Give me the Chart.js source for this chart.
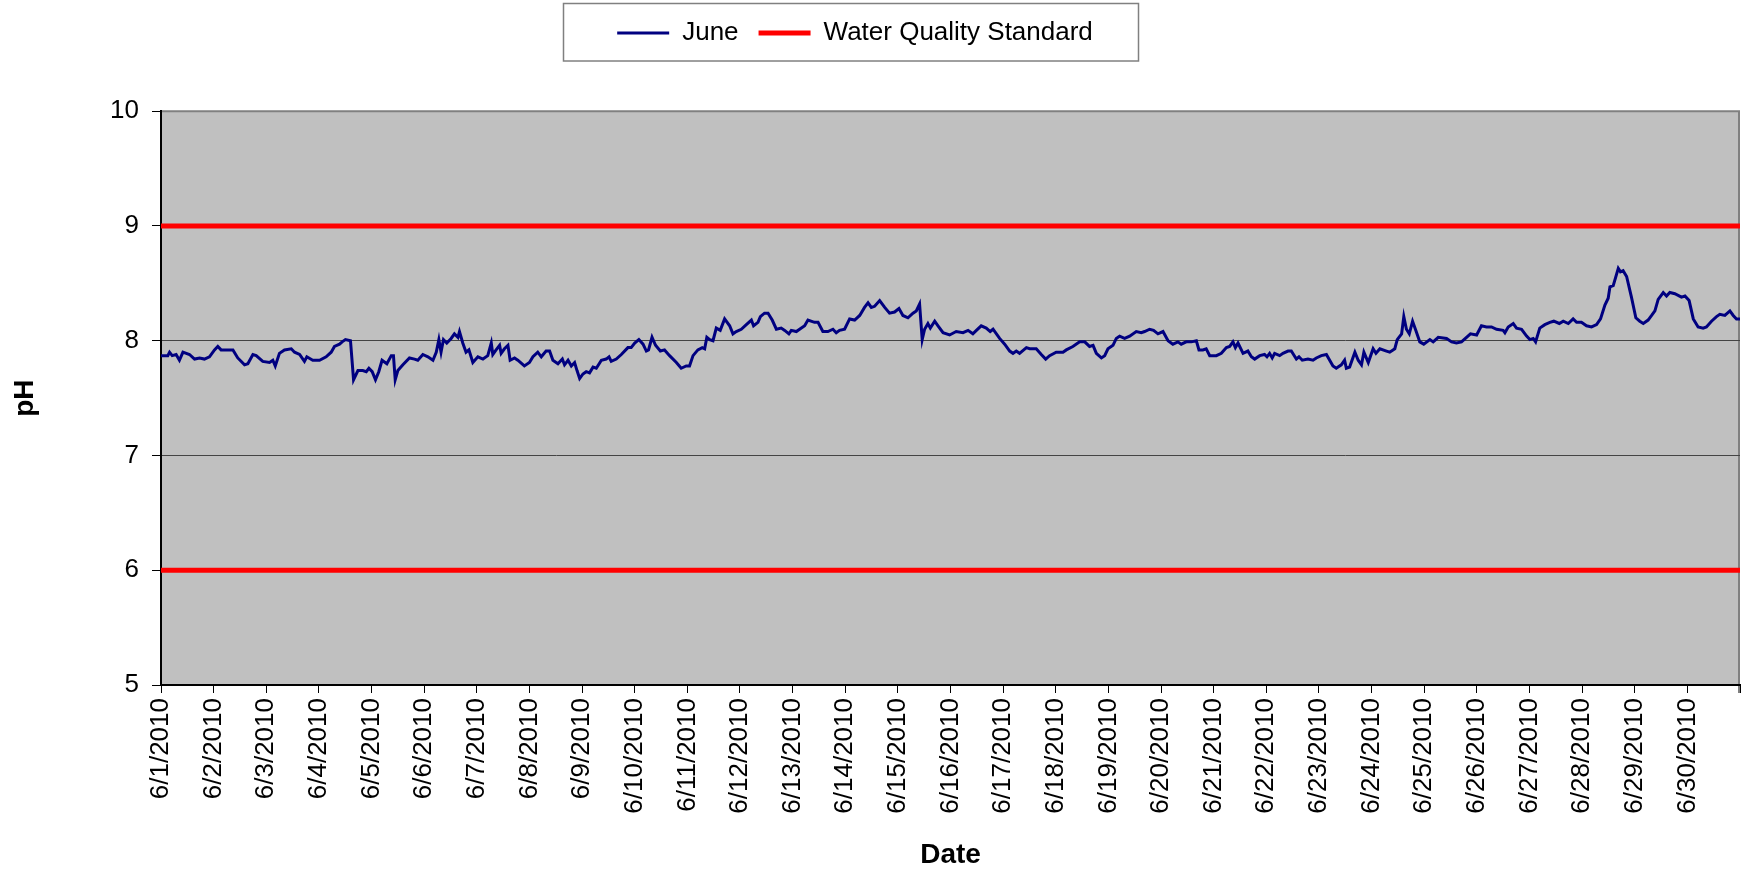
<!DOCTYPE html>
<html>
<head>
<meta charset="utf-8">
<script src="https://cdn.jsdelivr.net/npm/chart.js@4.4.0/dist/chart.umd.min.js"></script>
<style>
html,body{margin:0;padding:0;background:#fff;}
canvas{display:block;}
</style>
</head>
<body>
<canvas id="c" width="1746" height="873"></canvas>
<script>
// ---- data ----
const dateLabels = ['6/1/2010','6/2/2010','6/3/2010','6/4/2010','6/5/2010','6/6/2010','6/7/2010','6/8/2010','6/9/2010','6/10/2010',
  '6/11/2010','6/12/2010','6/13/2010','6/14/2010','6/15/2010','6/16/2010','6/17/2010','6/18/2010','6/19/2010','6/20/2010',
  '6/21/2010','6/22/2010','6/23/2010','6/24/2010','6/25/2010','6/26/2010','6/27/2010','6/28/2010','6/29/2010','6/30/2010'];
const monthEndHour = 720;           // 7/1/2010 00:00
const yTicks = [5, 6, 7, 8, 9, 10];
const standardLimits = [9, 6];      // water quality standard band

// hours since 6/1/2010 00:00
const juneHours = [
  0, 3.1, 3.9, 5.1, 6.9, 8.4, 10.0, 13.0, 15.3, 17.6,
  19.8, 22.1, 24.4, 25.9, 27.4, 32.8, 35.0, 38.1, 39.6, 41.9,
  43.4, 46.4, 49.5, 51.0, 52.1, 54.0, 56.3, 59.4, 60.9, 63.2,
  65.4, 66.5, 69.2, 72.3, 75.3, 77.6, 79.1, 81.4, 82.6, 84.1,
  86.4, 87.8, 89.8, 92.0, 93.6, 94.8, 96.3, 97.8, 99.3, 100.8,
  103.0, 105.0, 106.0, 106.8, 108.0, 110.3, 113.3, 115.6, 117.1, 119.4,
  121.7, 124.0, 125.5, 126.7, 127.7, 128.8, 130.3, 132.3, 133.8, 135.4,
  136.1, 137.6, 139.1, 140.4, 142.2, 144.5, 146.8, 149.0, 150.6, 151.3,
  152.8, 154.4, 155.1, 156.6, 158.2, 159.2, 161.2, 162.7, 165.7, 168.0,
  169.6, 171.8, 173.4, 175.6, 177.2, 178.7, 181.0, 183.0, 184.0, 185.6,
  187.1, 188.6, 189.7, 190.9, 192.4, 193.9, 195.4, 197.0, 198.5, 200.8,
  203.0, 204.3, 205.3, 207.6, 209.9, 212.9, 214.4, 216.0, 217.9, 219.8,
  221.3, 222.3, 223.9, 225.5, 227.7, 229.6, 231.9, 235.0, 237.2, 239.5,
  241.0, 242.6, 244.8, 246.8, 247.9, 248.9, 250.2, 251.7, 253.2, 255.0,
  257.0, 259.3, 260.8, 262.3, 264.6, 266.9, 269.2, 270.2, 272.2, 273.3,
  275.2, 276.8, 278.7, 280.6, 282.8, 284.4, 286.3, 287.4, 289.7, 292.0,
  293.5, 295.0, 298.0, 299.6, 301.8, 304.1, 306.4, 307.9, 309.4, 311.7,
  314.0, 316.3, 318.6, 320.8, 322.4, 323.9, 325.4, 327.7, 330.0, 332.2,
  334.5, 336.5, 338.3, 340.6, 342.9, 344.4, 345.9, 347.1, 348.2, 349.7,
  350.8, 352.8, 354.3, 356.6, 359.6, 362.6, 365.7, 368.0, 370.2, 371.8,
  374.0, 376.3, 378.1, 379.4, 382.4, 384.7, 387.0, 388.5, 390.0, 391.5,
  394.6, 396.1, 399.1, 401.4, 403.4, 405.2, 408.2, 411.3, 412.8, 415.8,
  418.9, 421.2, 423.4, 425.0, 426.5, 428.8, 430.3, 431.8, 434.1, 435.6,
  437.1, 439.4, 441.7, 444.7, 447.0, 448.5, 450.8, 452.6, 454.6, 456.9,
  459.2, 461.4, 463.7, 465.2, 467.5, 469.8, 472.1, 473.3, 475.1, 476.6,
  478.2, 481.2, 483.5, 485.8, 487.3, 488.8, 489.9, 491.1, 493.4, 495.6,
  497.2, 498.7, 501.0, 503.2, 504.3, 505.5, 506.7, 507.8, 510.1, 511.6,
  513.9, 515.4, 517.7, 518.9, 520.4, 523.0, 525.3, 526.8, 529.1, 531.4,
  534.4, 535.9, 538.2, 539.7, 540.5, 542.0, 544.4, 545.9, 547.4, 548.5,
  550.5, 552.7, 554.0, 555.8, 558.8, 560.3, 562.6, 563.7, 565.7, 566.7,
  567.9, 569.2, 570.7, 572.2, 574.0, 575.8, 578.6, 580.1, 582.4, 586.2,
  588.5, 590.7, 593.0, 595.3, 597.1, 599.9, 602.1, 604.4, 606.7, 609.0,
  612.0, 612.8, 614.3, 616.6, 618.1, 620.4, 622.7, 624.2, 625.7, 626.8,
  628.7, 631.0, 633.3, 635.1, 637.6, 639.4, 641.7, 643.9, 645.5, 647.7,
  650.0, 652.3, 654.6, 656.4, 658.4, 659.9, 660.7, 662.2, 664.5, 665.5,
  666.7, 668.3, 670.5, 672.5, 674.3, 675.9, 678.1, 679.7, 681.2, 682.7,
  685.0, 686.5, 688.0, 690.3, 693.3, 694.9, 696.8, 698.7, 700.9, 703.2,
  704.7, 707.0, 709.3, 710.8, 713.1, 715.4, 716.9, 718.4, 720.0
];
const junePH = [
  7.87, 7.87, 7.90, 7.87, 7.88, 7.83, 7.90, 7.88, 7.84, 7.85,
  7.84, 7.86, 7.92, 7.95, 7.92, 7.92, 7.85, 7.79, 7.80, 7.88,
  7.87, 7.82, 7.81, 7.83, 7.78, 7.89, 7.92, 7.93, 7.90, 7.88,
  7.82, 7.86, 7.83, 7.83, 7.86, 7.90, 7.95, 7.97, 7.99, 8.01,
  8.00, 7.66, 7.74, 7.74, 7.73, 7.76, 7.73, 7.66, 7.73, 7.83,
  7.80, 7.87, 7.87, 7.66, 7.74, 7.79, 7.85, 7.84, 7.83, 7.88,
  7.86, 7.83, 7.90, 8.01, 7.90, 8.01, 7.98, 8.02, 8.06, 8.03,
  8.08, 7.98, 7.90, 7.92, 7.81, 7.86, 7.84, 7.87, 7.98, 7.88,
  7.92, 7.96, 7.89, 7.93, 7.96, 7.83, 7.85, 7.83, 7.78, 7.81,
  7.86, 7.90, 7.86, 7.91, 7.91, 7.83, 7.80, 7.84, 7.79, 7.83,
  7.78, 7.81, 7.74, 7.67, 7.71, 7.73, 7.72, 7.77, 7.76, 7.83,
  7.84, 7.86, 7.82, 7.84, 7.88, 7.94, 7.94, 7.98, 8.01, 7.97,
  7.91, 7.92, 8.03, 7.96, 7.91, 7.92, 7.87, 7.81, 7.76, 7.78,
  7.78, 7.87, 7.92, 7.94, 7.93, 8.03, 8.01, 8.00, 8.11, 8.09,
  8.19, 8.13, 8.06, 8.08, 8.10, 8.14, 8.18, 8.13, 8.16, 8.21,
  8.24, 8.24, 8.18, 8.10, 8.11, 8.09, 8.06, 8.09, 8.08, 8.11,
  8.13, 8.18, 8.16, 8.16, 8.08, 8.08, 8.10, 8.07, 8.09, 8.10,
  8.19, 8.18, 8.22, 8.29, 8.33, 8.29, 8.30, 8.35, 8.29, 8.24,
  8.25, 8.28, 8.22, 8.20, 8.24, 8.26, 8.32, 8.01, 8.10, 8.15,
  8.11, 8.17, 8.13, 8.07, 8.05, 8.08, 8.07, 8.09, 8.06, 8.09,
  8.13, 8.11, 8.08, 8.10, 8.02, 7.97, 7.91, 7.89, 7.91, 7.89,
  7.94, 7.93, 7.93, 7.88, 7.84, 7.87, 7.90, 7.90, 7.92, 7.95,
  7.99, 7.99, 7.95, 7.96, 7.89, 7.85, 7.87, 7.93, 7.96, 8.02,
  8.04, 8.02, 8.04, 8.08, 8.07, 8.08, 8.10, 8.09, 8.06, 8.08,
  8.00, 7.97, 7.99, 7.97, 7.99, 7.99, 8.00, 7.92, 7.92, 7.93,
  7.87, 7.87, 7.89, 7.94, 7.95, 7.99, 7.94, 7.98, 7.89, 7.91,
  7.86, 7.84, 7.87, 7.88, 7.86, 7.89, 7.85, 7.89, 7.87, 7.89,
  7.91, 7.91, 7.84, 7.86, 7.83, 7.84, 7.83, 7.85, 7.87, 7.88,
  7.78, 7.76, 7.79, 7.83, 7.76, 7.77, 7.90, 7.83, 7.79, 7.90,
  7.81, 7.93, 7.89, 7.93, 7.91, 7.90, 7.93, 8.01, 8.06, 8.21,
  8.10, 8.06, 8.17, 8.09, 7.99, 7.97, 8.01, 7.99, 8.03, 8.02,
  7.99, 7.98, 7.99, 8.03, 8.06, 8.05, 8.13, 8.12, 8.12, 8.10,
  8.09, 8.07, 8.12, 8.15, 8.11, 8.10, 8.04, 8.01, 8.02, 7.99,
  8.11, 8.14, 8.16, 8.17, 8.15, 8.17, 8.15, 8.19, 8.16, 8.16,
  8.13, 8.12, 8.14, 8.19, 8.31, 8.37, 8.47, 8.48, 8.63, 8.60,
  8.61, 8.56, 8.38, 8.20, 8.17, 8.15, 8.18, 8.22, 8.26, 8.36,
  8.42, 8.39, 8.42, 8.41, 8.38, 8.39, 8.35, 8.19, 8.12, 8.11,
  8.12, 8.17, 8.21, 8.23, 8.22, 8.26, 8.22, 8.19, 8.19
];

// ---- build library structures ----
const FONT = "'Liberation Sans', Arial, Helvetica, sans-serif";
const junePoints = juneHours.map((h, i) => ({ x: h, y: junePH[i] }));
const standardPoints = [];
standardLimits.forEach((v, i) => {
  if (i > 0) standardPoints.push({ x: monthEndHour / 2, y: null });
  standardPoints.push({ x: 0, y: v }, { x: monthEndHour, y: v });
});
const xTickValues = dateLabels.map((_, i) => i * 24).concat([monthEndHour]);

const plotBg = {
  id: 'plotBg',
  beforeDraw(chart) {
    const { ctx, chartArea: a } = chart;
    ctx.save();
    ctx.fillStyle = '#C0C0C0';
    ctx.fillRect(a.left, a.top, a.right - a.left, a.bottom - a.top);
    ctx.strokeStyle = '#808080';
    ctx.lineWidth = 2;
    ctx.beginPath();
    ctx.moveTo(a.left, a.top);
    ctx.lineTo(a.right - 1, a.top);
    ctx.lineTo(a.right - 1, a.bottom + 8);
    ctx.stroke();
    ctx.restore();
  }
};

// nudge the (full-width) legend row slightly left, as in the original
const legendShift = {
  id: 'legendShift',
  afterLayout(chart) {
    const lg = chart.legend;
    if (lg) { lg.left -= 15; lg.right -= 15; }
  }
};

const legendBox = {
  id: 'legendBox',
  afterDraw(chart) {
    const lg = chart.legend;
    const hb = lg && lg.legendHitBoxes;
    if (!hb || !hb.length) return;
    const first = hb[0], last = hb[hb.length - 1];
    const l = Math.round(first.left - 54), r = Math.round(last.left + last.width + 45);
    const { ctx } = chart;
    ctx.save();
    ctx.strokeStyle = '#808080';
    ctx.lineWidth = 1.5;
    ctx.strokeRect(l + 0.5, 3.5, r - l, 57.5);
    ctx.restore();
  }
};

new Chart(document.getElementById('c'), {
  type: 'line',
  data: {
    datasets: [
      {
        label: 'June',
        data: junePoints,
        borderColor: '#000080',
        backgroundColor: '#000080',
        borderWidth: 3,
        pointRadius: 0,
        tension: 0,
        fill: false
      },
      {
        label: 'Water Quality Standard',
        data: standardPoints,
        borderColor: '#FF0000',
        backgroundColor: '#FF0000',
        borderWidth: 5,
        pointRadius: 0,
        spanGaps: false,
        fill: false
      }
    ]
  },
  options: {
    responsive: false,
    animation: false,
    devicePixelRatio: 1,
    layout: { padding: { top: 0, left: 0, right: 6, bottom: 0 } },
    plugins: {
      legend: {
        display: true,
        position: 'top',
        labels: {
          usePointStyle: true,
          pointStyle: 'line',
          pointStyleWidth: 52,
          padding: 20,
          color: '#000',
          font: { family: FONT, size: 26 }
        }
      },
      title: {
        display: true,
        text: '',
        weight: 500,
        font: { size: 1 },
        padding: { top: 54, bottom: 0 }
      },
      tooltip: { enabled: false }
    },
    scales: {
      x: {
        type: 'linear',
        min: 0,
        max: monthEndHour,
        afterBuildTicks: s => { s.ticks = xTickValues.map(v => ({ value: v })); },
        afterFit: s => { s.height = 188; s.paddingLeft = 0; s.paddingRight = 0; },
        ticks: {
          autoSkip: false,
          maxRotation: 90,
          minRotation: 90,
          padding: 5,
          color: '#000',
          font: { family: FONT, size: 26 },
          callback: v => dateLabels[v / 24] ?? ''
        },
        grid: { drawOnChartArea: false, drawTicks: true, tickLength: 8, color: '#000', lineWidth: 1 },
        border: { display: true, color: '#000', width: 2 },
        title: {
          display: true,
          text: 'Date',
          color: '#000',
          font: { family: FONT, size: 28, weight: 'bold' },
          padding: { top: 1, bottom: 1 }
        }
      },
      y: {
        min: 5,
        max: 10,
        afterBuildTicks: s => { s.ticks = yTicks.map(v => ({ value: v })); },
        afterFit: s => { s.width = 161; },
        ticks: { padding: 13, color: '#000', font: { family: FONT, size: 26 } },
        grid: {
          color: c => (c.tick && c.tick.value === 10) ? '#808080' : '#444444',
          lineWidth: 1,
          tickLength: 9,
          tickColor: '#000'
        },
        border: { display: true, color: '#000', width: 2 },
        title: {
          display: true,
          text: 'pH',
          color: '#000',
          font: { family: FONT, size: 28, weight: 'bold' },
          padding: { top: 8, bottom: 8 }
        }
      }
    }
  },
  plugins: [plotBg, legendShift, legendBox]
});
</script>
</body>
</html>
